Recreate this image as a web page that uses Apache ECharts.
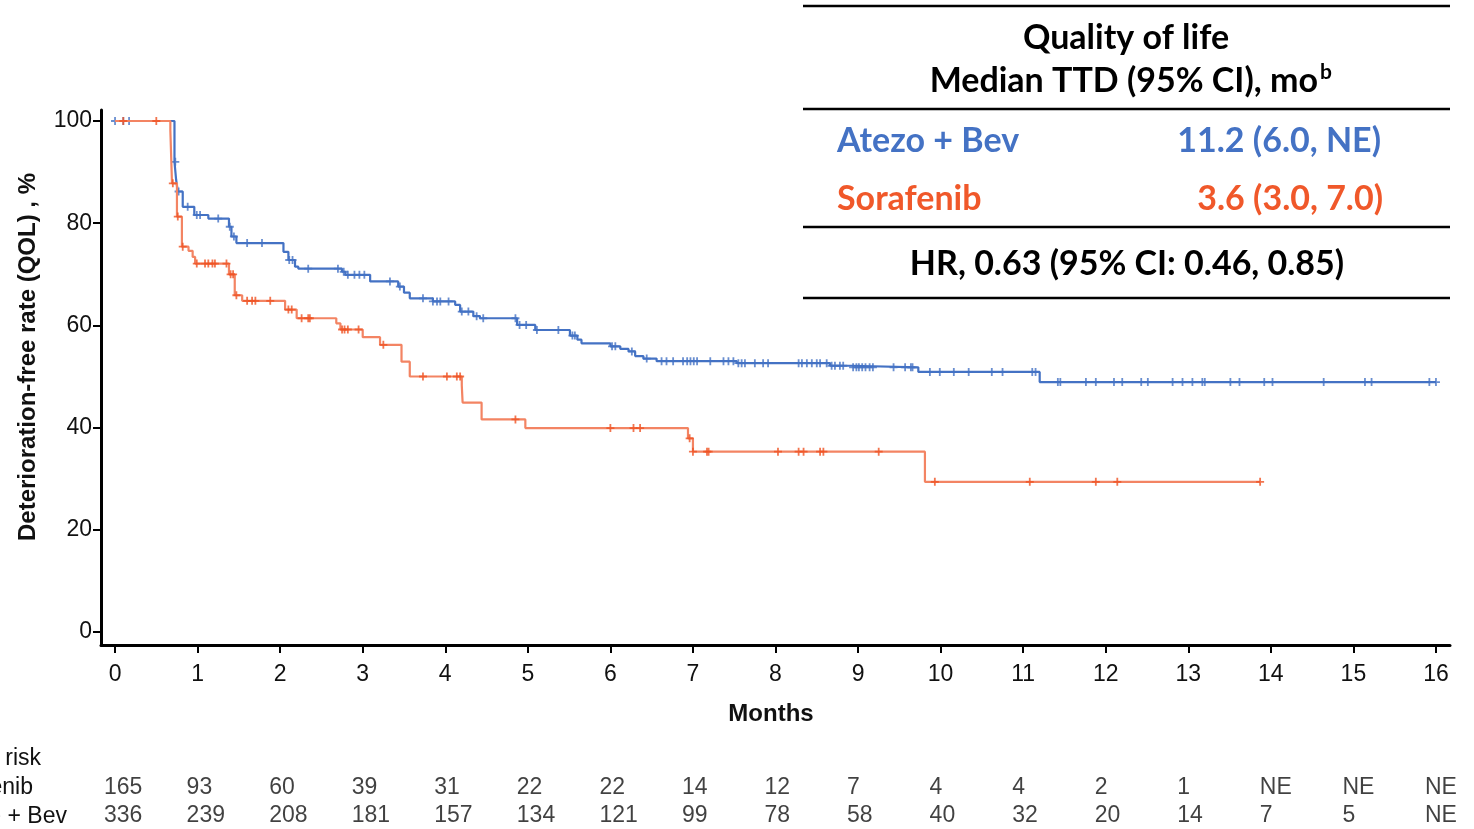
<!DOCTYPE html>
<html>
<head>
<meta charset="utf-8">
<script src="https://cdn.jsdelivr.net/npm/echarts@6/dist/echarts.min.js"></script>
<style>
html,body{margin:0;padding:0;background:#fff;}
#chart{width:1474px;height:829px;}
</style>
</head>
<body>
<div id="chart"></div>
<script>
// ---------- data ----------
const monthTicks = [0,1,2,3,4,5,6,7,8,9,10,11,12,13,14,15,16];
const rateTicks = [0,20,40,60,80,100];

// Atezo + Bev: step times (months) and deterioration-free rate (%)
const atezoTime = [0,0.72,0.74,0.76,0.82,0.96,1.13,1.38,1.41,1.47,2.04,2.10,2.18,2.22,2.75,2.79,3.09,3.43,3.50,3.57,3.85,4.12,4.18,4.34,4.42,4.87,5.09,5.51,5.60,5.65,6.00,6.12,6.22,6.30,6.40,6.56,7.53,8.66,8.92,9.73,11.20,16.0];
const atezoRate = [100,92.0,88.5,86.2,83.2,81.6,80.9,79.3,77.4,76.1,74.4,72.8,71.5,71.1,70.5,69.9,68.6,67.6,66.4,65.3,64.7,64.0,62.7,61.8,61.4,60.1,59.1,58.0,57.2,56.5,55.9,55.4,54.9,54.0,53.5,53.0,52.6,52.1,51.8,50.9,48.9,48.9];
const atezoCensor = [0,0.10,0.17,0.73,0.77,0.88,0.99,1.03,1.25,1.39,1.44,1.60,1.78,2.11,2.15,2.34,2.70,2.77,2.82,2.90,2.96,3.02,3.33,3.45,3.73,3.85,3.90,3.94,4.04,4.20,4.28,4.38,4.46,4.85,4.90,4.98,5.11,5.37,5.54,5.57,6.02,6.06,6.26,6.44,6.62,6.68,6.76,6.88,6.93,6.97,7.01,7.05,7.21,7.37,7.43,7.49,7.55,7.59,7.63,7.75,7.85,7.91,8.28,8.32,8.38,8.44,8.50,8.54,8.62,8.68,8.72,8.78,8.82,8.94,8.98,9.01,9.05,9.09,9.14,9.18,9.43,9.57,9.64,9.66,9.87,9.99,10.16,10.34,10.62,10.75,11.11,11.15,11.42,11.45,11.76,11.88,12.10,12.20,12.43,12.51,12.81,12.93,13.05,13.17,13.20,13.51,13.62,13.92,14.02,14.64,15.14,15.22,15.92,16.0];

// Sorafenib
const soraTime = [0,0.67,0.69,0.75,0.81,0.89,0.94,0.97,1.38,1.45,1.54,2.06,2.20,2.68,2.73,3.00,3.21,3.47,3.57,4.20,4.21,4.44,4.97,6.94,7.00,9.81,13.87];
const soraRate = [100,98.2,87.8,81.3,75.4,74.6,73.4,72.1,70.0,65.9,64.8,63.1,61.4,60.4,59.2,57.7,56.2,52.9,50.0,48.3,44.9,41.6,39.9,37.9,35.3,29.4,29.4];
const soraCensor = [0.10,0.50,0.70,0.76,0.82,0.99,1.09,1.13,1.18,1.21,1.35,1.40,1.43,1.47,1.60,1.66,1.70,1.88,2.10,2.14,2.26,2.34,2.36,2.75,2.78,2.82,2.95,3.25,3.73,4.02,4.14,4.18,4.85,6.00,6.28,6.36,6.96,7.00,7.17,7.19,8.03,8.28,8.34,8.54,8.58,9.25,9.93,11.08,11.88,12.14,13.87];

// Number at risk
const riskMonths = [0,1,2,3,4,5,6,7,8,9,10,11,12,13,14,15,16];
const soraRisk  = ['165','93','60','39','31','22','22','14','12','7','4','4','2','1','NE','NE','NE'];
const atezoRisk = ['336','239','208','181','157','134','121','99','78','58','40','32','20','14','7','5','NE'];
const riskRowNames = ['No. at risk','Sorafenib','Atezo + Bev'];

// Summary table texts
const tableTitle = ['Quality of life','Median TTD (95% CI), mo','b'];
const tableArms = ['Atezo + Bev','Sorafenib'];
const tableMedians = ['11.2 (6.0, NE)','3.6 (3.0, 7.0)'];
const tableHR = 'HR, 0.63 (95% CI: 0.46, 0.85)';

// ---------- styling ----------
const BLUE = '#4472C4';
const ORANGE_LINE = '#F38463';
const ORANGE = '#EF5323';
const ORANGE_TEXT = '#F0582A';
const AXIS_FONT = 'Liberation Sans, Arial, sans-serif';
const TABLE_FONT = 'Lato, sans-serif';

function rateAt(times, rates, t){
  let v = rates[0];
  for (let i = 0; i < times.length; i++) if (times[i] <= t + 1e-9) v = rates[i];
  return v;
}
const pairs = (a, b) => a.map((t, i) => [t, b[i]]);
const crossPath = 'path://M4,0L4,8M0,4L8,4';

const chart = echarts.init(document.getElementById('chart'), null, {renderer: 'canvas'});

const option = {
  animation: false,
  backgroundColor: '#fff',
  grid: [
    {left: 101, right: 24, top: 110, bottom: 184, containLabel: false},
    {left: 101, right: 24, top: 774, height: 58, containLabel: false}
  ],
  xAxis: [
    {
      type: 'value', gridIndex: 0, min: -0.17, max: 16.17,
      axisLine: {show: true, onZero: false, lineStyle: {color: '#000', width: 3}},
      axisTick: {show: true, customValues: monthTicks, length: 8, lineStyle: {color: '#000', width: 2}},
      axisLabel: {show: true, customValues: monthTicks, fontSize: 23, color: '#111', fontFamily: AXIS_FONT, margin: 18},
      splitLine: {show: false}
    },
    {type: 'value', gridIndex: 1, min: -0.17, max: 16.17, show: false}
  ],
  yAxis: [
    {
      type: 'value', gridIndex: 0, min: -2.54, max: 102.15,
      axisLine: {show: true, onZero: false, lineStyle: {color: '#000', width: 3}},
      axisTick: {show: true, customValues: rateTicks, length: 8, lineStyle: {color: '#000', width: 2}},
      axisLabel: {show: true, customValues: rateTicks, fontSize: 23, color: '#111', fontFamily: AXIS_FONT, margin: 9},
      splitLine: {show: false}
    },
    {type: 'category', gridIndex: 1, data: ['Sorafenib','Atezo + Bev'], inverse: true, show: false}
  ],
  series: [
    {
      name: 'Atezo + Bev', type: 'line', step: 'end', xAxisIndex: 0, yAxisIndex: 0,
      data: pairs(atezoTime, atezoRate), showSymbol: false, symbol: 'none',
      lineStyle: {color: BLUE, width: 2.2}, z: 2
    },
    {
      name: 'Atezo + Bev censored', type: 'scatter', xAxisIndex: 0, yAxisIndex: 0,
      data: atezoCensor.map(t => [t, rateAt(atezoTime, atezoRate, t)]),
      symbol: crossPath, symbolSize: 8,
      itemStyle: {color: 'none', borderColor: BLUE, borderWidth: 1.8}, z: 3
    },
    {
      name: 'Sorafenib', type: 'line', step: 'end', xAxisIndex: 0, yAxisIndex: 0,
      data: pairs(soraTime, soraRate), showSymbol: false, symbol: 'none',
      lineStyle: {color: ORANGE_LINE, width: 2.2}, z: 4
    },
    {
      name: 'Sorafenib censored', type: 'scatter', xAxisIndex: 0, yAxisIndex: 0,
      data: soraCensor.map(t => [t, rateAt(soraTime, soraRate, t)]),
      symbol: crossPath, symbolSize: 8,
      itemStyle: {color: 'none', borderColor: ORANGE, borderWidth: 1.8}, z: 5
    },
    {
      name: 'risk', type: 'scatter', xAxisIndex: 1, yAxisIndex: 1, symbolSize: 0, silent: true,
      data: riskMonths.map((m, i) => [m, 0, soraRisk[i]]).concat(riskMonths.map((m, i) => [m, 1, atezoRisk[i]])),
      label: {show: true, position: 'inside', align: 'left', verticalAlign: 'middle', offset: [-11, 0],
        formatter: p => p.value[2], fontSize: 23, color: '#111', fontFamily: AXIS_FONT}
    }
  ],
  graphic: [
    // axis titles
    {type: 'text', x: 28, y: 357, rotation: Math.PI / 2,
      style: {text: 'Deterioration-free rate (QOL) , %', fontSize: 24, fontWeight: 'bold', fontFamily: AXIS_FONT, fill: '#111', align: 'center', verticalAlign: 'middle'}},
    {type: 'text', x: 771, y: 714,
      style: {text: 'Months', fontSize: 24, fontWeight: 'bold', fontFamily: AXIS_FONT, fill: '#111', align: 'center', verticalAlign: 'middle'}},
    // number at risk row labels
    {type: 'text', x: 41, y: 759, style: {text: riskRowNames[0], fontSize: 23, fontFamily: AXIS_FONT, fill: '#111', align: 'right', verticalAlign: 'middle'}},
    {type: 'text', x: 33, y: 788, style: {text: riskRowNames[1], fontSize: 23, fontFamily: AXIS_FONT, fill: '#111', align: 'right', verticalAlign: 'middle'}},
    {type: 'text', x: 67, y: 817, style: {text: riskRowNames[2], fontSize: 23, fontFamily: AXIS_FONT, fill: '#111', align: 'right', verticalAlign: 'middle'}},
    // summary table rules
    {type: 'line', shape: {x1: 803, y1: 6, x2: 1450, y2: 6}, style: {stroke: '#000', lineWidth: 2.5}},
    {type: 'line', shape: {x1: 803, y1: 109, x2: 1450, y2: 109}, style: {stroke: '#000', lineWidth: 2.5}},
    {type: 'line', shape: {x1: 803, y1: 227, x2: 1450, y2: 227}, style: {stroke: '#000', lineWidth: 2.5}},
    {type: 'line', shape: {x1: 803, y1: 298, x2: 1450, y2: 298}, style: {stroke: '#000', lineWidth: 2.5}},
    // summary table texts
    {type: 'text', x: 1126, y: 38, style: {text: tableTitle[0], fontSize: 34, fontWeight: 'bold', fontFamily: TABLE_FONT, fill: '#000', align: 'center', verticalAlign: 'middle'}},
    {type: 'text', x: 1318, y: 81, style: {text: tableTitle[1], fontSize: 34, fontWeight: 'bold', fontFamily: TABLE_FONT, fill: '#000', align: 'right', verticalAlign: 'middle'}},
    {type: 'text', x: 1320, y: 72, style: {text: tableTitle[2], fontSize: 21, fontWeight: 'bold', fontFamily: TABLE_FONT, fill: '#000', align: 'left', verticalAlign: 'middle'}},
    {type: 'text', x: 837, y: 141, style: {text: tableArms[0], fontSize: 34, fontWeight: 'bold', fontFamily: TABLE_FONT, fill: BLUE, align: 'left', verticalAlign: 'middle'}},
    {type: 'text', x: 1381, y: 141, style: {text: tableMedians[0], fontSize: 34, fontWeight: 'bold', fontFamily: TABLE_FONT, fill: BLUE, align: 'right', verticalAlign: 'middle'}},
    {type: 'text', x: 837, y: 199, style: {text: tableArms[1], fontSize: 34, fontWeight: 'bold', fontFamily: TABLE_FONT, fill: ORANGE_TEXT, align: 'left', verticalAlign: 'middle'}},
    {type: 'text', x: 1383, y: 199, style: {text: tableMedians[1], fontSize: 34, fontWeight: 'bold', fontFamily: TABLE_FONT, fill: ORANGE_TEXT, align: 'right', verticalAlign: 'middle'}},
    {type: 'text', x: 1127, y: 264, style: {text: tableHR, fontSize: 34, fontWeight: 'bold', fontFamily: TABLE_FONT, fill: '#000', align: 'center', verticalAlign: 'middle'}}
  ]
};
chart.setOption(option);
</script>
</body>
</html>
